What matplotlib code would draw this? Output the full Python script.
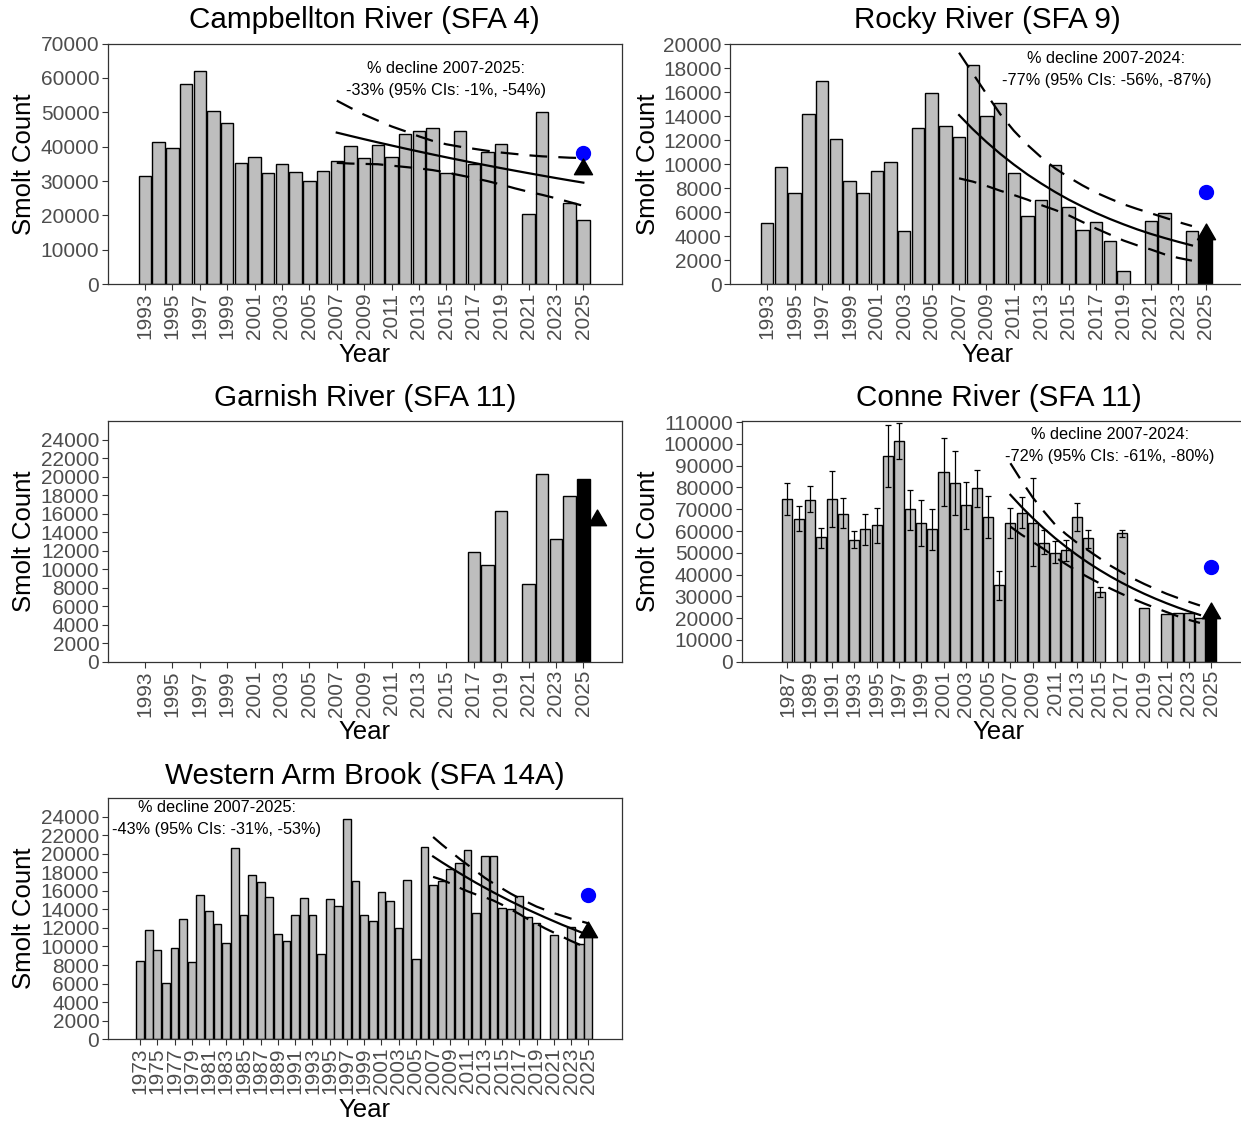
import numpy as np
import matplotlib.pyplot as plt
from matplotlib.path import Path

plt.rcParams['font.family'] = ['Liberation Sans', 'DejaVu Sans']

nan = np.nan

# ---- Campbellton River (SFA 4) ----
camp_years = np.arange(1993, 2026)
camp_counts = [31500, 41500, 39600, 58100, 61900, 50300, 46900, 35400, 36900, 32300,
               35000, 32700, 30000, 33000, 35700, 40300, 36600, 40600, 36900, 43800,
               44600, 45300, 32400, 44600, 35000, 38500, 40800, nan, 20400, 50000,
               nan, 23500, 18800]
camp_trend_years = np.arange(2007, 2026)
camp_fit = [44100, 43130, 42180, 41250, 40350, 39460, 38590, 37740, 36910, 36100,
            35300, 34530, 33770, 33030, 32300, 31590, 30890, 30210, 29550]
camp_upper = [53400, 51300, 49300, 47600, 45900, 44500, 43000, 41700, 40700, 40000,
              39400, 38800, 38300, 37900, 37500, 37200, 37000, 36800, 36700]
camp_lower = [35300, 35100, 35000, 34900, 34500, 34100, 33700, 33200, 32500, 31700,
              30900, 30000, 29000, 27900, 26900, 26000, 25000, 23900, 22800]
camp_target = 38200
camp_predicted = 33600
camp_note = '% decline 2007-2025:\n-33% (95% CIs: -1%, -54%)'

# ---- Rocky River (SFA 9) ----
rocky_years = np.arange(1993, 2026)
rocky_counts = [5100, 9800, 7600, 14200, 16900, 12100, 8600, 7600, 9400, 10200,
                4400, 13000, 15900, 13200, 12300, 18300, 14000, 15100, 9300, 5700,
                7000, 9900, 6400, 4500, 5200, 3600, 1100, nan, 5300, 5900,
                nan, 4400, nan]
rocky_count_2025 = 3900
rocky_trend_years = np.arange(2007, 2025)
rocky_fit = [14100, 12930, 11860, 10880, 9980, 9150, 8400, 7700, 7060, 6480,
             5940, 5450, 5000, 4580, 4200, 3860, 3540, 3240]
rocky_upper = [19300, 17580, 15860, 14190, 12800, 11610, 10580, 9670, 8920, 8250,
               7640, 7140, 6670, 6280, 5920, 5560, 5190, 4860]
rocky_lower = [8830, 8560, 8200, 7800, 7440, 7050, 6600, 6200, 5750, 5200,
               4650, 4150, 3650, 3250, 2900, 2500, 2200, 1970]
rocky_target = 7700
rocky_predicted = 4190
rocky_note = '% decline 2007-2024:\n-77% (95% CIs: -56%, -87%)'

# ---- Garnish River (SFA 11) ----
garn_years = np.arange(2017, 2025)
garn_counts = [11900, 10400, 16300, nan, 8400, 20300, 13200, 17900]
garn_count_2025 = 19700
garn_predicted = 15300

# ---- Conne River (SFA 11) ----
conne_years = np.arange(1987, 2026)
conne_counts = [74700, 65600, 74200, 57100, 74700, 68000, 55900, 60700, 62800, 94400,
                101400, 69900, 63900, 60700, 87000, 82000, 71800, 79700, 66200, 35200,
                63900, 68200, 63900, 54700, 50100, 51200, 66300, 56700, 32200, nan,
                59000, nan, 24800, nan, 21700, 22400, 22400, 19900, nan]
conne_low = [67400, 60000, 68900, 52400, 62000, 61500, 52100, 53600, 54400, 80000,
             93000, 60500, 53200, 51300, 71700, 67400, 60700, 71200, 57000, 28300,
             57000, 61600, 44000, 49300, 45200, 46000, 59800, 52100, 29900, nan,
             57400, nan, nan, nan, nan, nan, nan, nan, nan]
conne_high = [82000, 71700, 80700, 61300, 87600, 75000, 60100, 68000, 70500, 108800,
              109500, 78900, 74100, 69900, 102900, 96500, 82700, 88100, 76000, 41800,
              70500, 75400, 84500, 60500, 55500, 55900, 72800, 60500, 34500, nan,
              60500, nan, nan, nan, nan, nan, nan, nan, nan]
conne_count_2025 = 20500
conne_trend_years = np.arange(2007, 2025)
conne_fit = [76600, 71070, 65950, 61190, 56770, 52680, 48880, 45350, 42080, 39040,
             36220, 33610, 31190, 28940, 26850, 24910, 23110, 21450]
conne_upper = [91100, 83000, 75400, 69000, 63000, 58500, 54500, 51000, 47500, 44000,
               41000, 38200, 35700, 33400, 31200, 29300, 27500, 25800]
conne_lower = [62000, 58300, 55000, 51700, 48000, 44700, 41500, 38700, 36000, 33500,
               31100, 28800, 26700, 24700, 22800, 20900, 19200, 17800]
conne_target = 43500
conne_predicted = 22400
conne_note = '% decline 2007-2024:\n-72% (95% CIs: -61%, -80%)'

# ---- Western Arm Brook (SFA 14A) ----
wab_years = np.arange(1973, 2026)
wab_counts = [8400, 11800, 9600, 6100, 9800, 13000, 8300, 15500, 13800, 12400,
              10400, 20600, 13400, 17700, 16900, 15300, 11300, 10600, 13400, 15200,
              13400, 9200, 15100, 14400, 23700, 17100, 13400, 12700, 15900, 14900,
              12000, 17200, 8600, 20700, 16600, 17100, 18300, 19000, 20400, 13600,
              19700, 19700, 14200, 14000, 15400, 13200, 12500, nan, 11200, nan,
              12100, 10300, 11300]
wab_trend_years = np.arange(2007, 2026)
wab_fit = [19700, 19090, 18510, 17940, 17390, 16850, 16340, 15830, 15350, 14870,
           14420, 13970, 13550, 13130, 12730, 12330, 11960, 11590, 11230]
wab_upper = [21800, 21000, 20250, 19500, 18800, 18100, 17400, 16800, 16250, 15700,
             15200, 14750, 14300, 13950, 13600, 13300, 13000, 12750, 12500]
wab_lower = [17500, 17200, 16800, 16350, 15950, 15600, 15300, 14950, 14500, 14000,
             13500, 12950, 12450, 11950, 11500, 11050, 10600, 10200, 9800]
wab_target = 15560
wab_predicted = 11600
wab_note = '% decline 2007-2025:\n-43% (95% CIs: -31%, -53%)'

# ---- styling ----
BAR_GREY = '#BEBEBE'
TEXT_GREY = '#4D4D4D'
FRAME = '#333333'
DASH = (0, (8, 5))
W, H = 1241, 1123

# filled triangle centred on its centroid
TRIANGLE = Path([(-1.0, -0.577), (1.0, -0.577), (0.0, 1.155), (-1.0, -0.577)],
                [Path.MOVETO, Path.LINETO, Path.LINETO, Path.CLOSEPOLY])

fig = plt.figure(figsize=(W / 100, H / 100), dpi=100)


def panel(x0, x1, y0, y1):
    return fig.add_axes([x0 / W, 1 - y1 / H, (x1 - x0) / W, (y1 - y0) / H])


def bars(ax, years, counts, colour=BAR_GREY):
    years = np.asarray(years)
    counts = np.asarray(counts, dtype=float)
    ok = ~np.isnan(counts)
    ax.bar(years[ok], counts[ok], width=0.9, color=colour,
           edgecolor='black', linewidth=1.0, zorder=2)


def trend(ax, years, fit, upper, lower):
    ax.plot(years, fit, color='black', lw=1.6, zorder=3)
    ax.plot(years, upper, color='black', lw=1.6, ls=DASH, zorder=3)
    ax.plot(years, lower, color='black', lw=1.6, ls=DASH, zorder=3)


def markers(ax, year, target=None, predicted=None):
    if target is not None:
        ax.plot(year, target, 'o', color='#0000FF', ms=10, zorder=5)
    if predicted is not None:
        ax.plot(year, predicted, marker=TRIANGLE, color='black', ms=15,
                ls='none', zorder=5)


def decorate(ax, title, xlim, ylim, xticks, yticks, ylab_x, title_y):
    ax.set_xlim(*xlim)
    ax.set_ylim(*ylim)
    ax.set_xticks(xticks)
    ax.set_xticklabels([str(t) for t in xticks], rotation=90)
    ax.set_yticks(yticks)
    ax.set_yticklabels([str(t) for t in yticks])
    ax.tick_params(colors=FRAME, labelcolor=TEXT_GREY, labelsize=15,
                   length=4, width=0.8, pad=2)
    for s in ax.spines.values():
        s.set_color(FRAME)
        s.set_linewidth(0.9)
    ax.set_xlabel('Year', fontsize=18.5, va='center')
    ax.xaxis.set_label_coords(0.5, -0.293)
    ax.set_ylabel('Smolt Count', fontsize=18.5, va='center')
    ax.yaxis.set_label_coords(ylab_x, 0.5)
    ax.text(0.5, title_y, title, transform=ax.transAxes, ha='center',
            va='center', fontsize=21.3)


def note(ax, x, y, text):
    ax.text(x, y, text, ha='center', va='center', fontsize=11.7,
            linespacing=1.6, zorder=6)


# Campbellton
ax1 = panel(107.7, 621.7, 43.5, 284.3)
bars(ax1, camp_years, camp_counts)
trend(ax1, camp_trend_years, camp_fit, camp_upper, camp_lower)
markers(ax1, 2025, camp_target, camp_predicted)
note(ax1, 2015.0, 59500, camp_note)
decorate(ax1, 'Campbellton River (SFA 4)', (1990.28, 2027.8), (0, 70000),
         np.arange(1993, 2026, 2), np.arange(0, 70001, 10000), -0.163, 1.097)

# Rocky
ax2 = panel(730, 1244, 44.3, 284.3)
bars(ax2, rocky_years, rocky_counts)
bars(ax2, [2025], [rocky_count_2025], colour='black')
trend(ax2, rocky_trend_years, rocky_fit, rocky_upper, rocky_lower)
markers(ax2, 2025, rocky_target, rocky_predicted)
note(ax2, 2017.75, 17900, rocky_note)
decorate(ax2, 'Rocky River (SFA 9)', (1990.28, 2027.8), (0, 20000),
         np.arange(1993, 2026, 2), np.arange(0, 20001, 2000), -0.160, 1.101)

# Garnish
ax3 = panel(107.7, 621.7, 421, 661.7)
bars(ax3, garn_years, garn_counts)
bars(ax3, [2025], [garn_count_2025], colour='black')
markers(ax3, 2026, None, garn_predicted)
decorate(ax3, 'Garnish River (SFA 11)', (1990.28, 2027.8), (0, 26000),
         np.arange(1993, 2026, 2), np.arange(0, 24001, 2000), -0.163, 1.096)

# Conne
ax4 = panel(741.7, 1255.7, 421, 661.7)
bars(ax4, conne_years, conne_counts)
bars(ax4, [2025], [conne_count_2025], colour='black')
c_mid = np.asarray(conne_counts, dtype=float)
c_lo = np.asarray(conne_low, dtype=float)
c_hi = np.asarray(conne_high, dtype=float)
has_err = ~np.isnan(c_lo)
ax4.errorbar(conne_years[has_err], c_mid[has_err],
             yerr=[c_mid[has_err] - c_lo[has_err], c_hi[has_err] - c_mid[has_err]],
             fmt='none', ecolor='black', elinewidth=0.9, capsize=2.2,
             capthick=0.9, zorder=3)
trend(ax4, conne_trend_years, conne_fit, conne_upper, conne_lower)
markers(ax4, 2025, conne_target, conne_predicted)
note(ax4, 2015.9, 99300, conne_note)
decorate(ax4, 'Conne River (SFA 11)', (1982.9, 2029.0), (0, 110500),
         np.arange(1987, 2026, 2), np.arange(0, 110001, 10000), -0.182, 1.096)

# Western Arm Brook
ax5 = panel(107.7, 621.7, 798, 1039.3)
bars(ax5, wab_years, wab_counts)
trend(ax5, wab_trend_years, wab_fit, wab_upper, wab_lower)
markers(ax5, 2025, wab_target, wab_predicted)
note(ax5, 1981.9, 23800, wab_note)
decorate(ax5, 'Western Arm Brook (SFA 14A)', (1969.25, 2028.88), (0, 26000),
         np.arange(1973, 2026, 2), np.arange(0, 24001, 2000), -0.163, 1.091)

fig.savefig('out.png', dpi=100)
